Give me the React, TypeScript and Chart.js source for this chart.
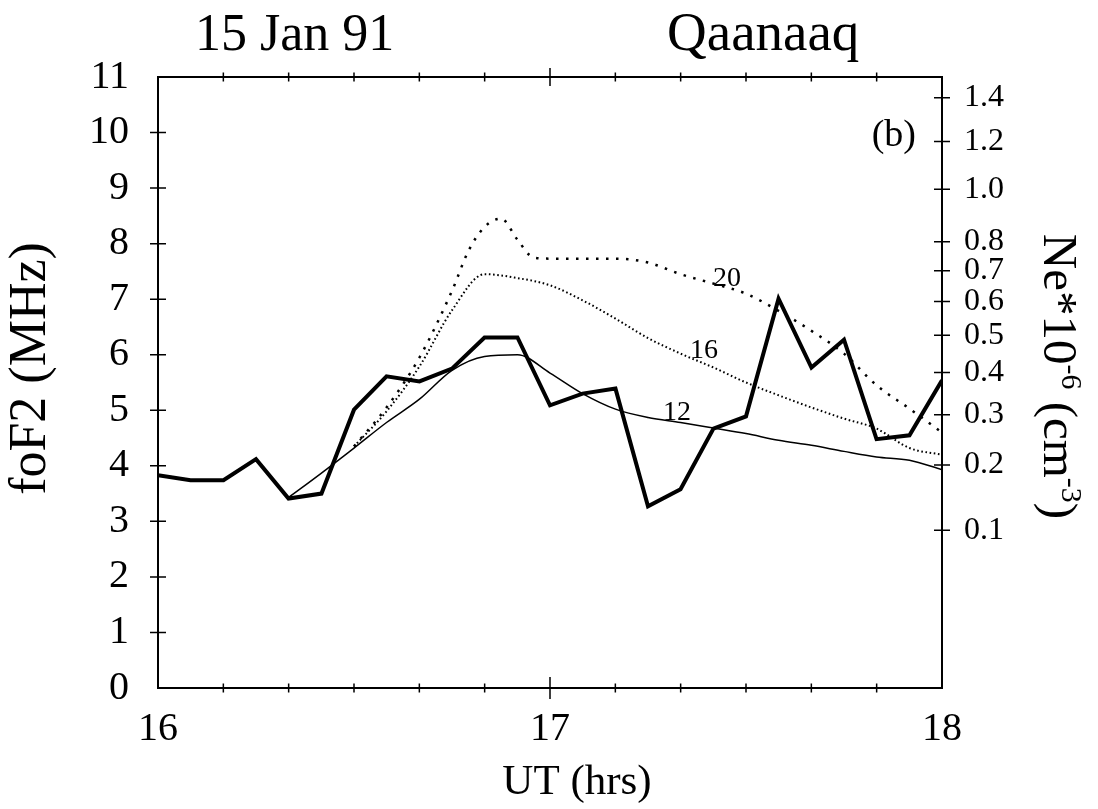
import React, { useEffect, useRef } from "react";
import { Chart, registerables } from "chart.js";

Chart.register(...registerables);

// ---------- data (UT hours, foF2 in MHz) ----------
const obsTimes = [16.0, 16.083, 16.167, 16.25, 16.333, 16.417, 16.5, 16.583, 16.667, 16.75, 16.833, 16.917, 17.0,
  17.083, 17.167, 17.25, 17.333, 17.417, 17.5, 17.583, 17.667, 17.75, 17.833, 17.917, 18.0];
const obsFoF2 = [3.83, 3.74, 3.74, 4.12, 3.41, 3.5, 5.01, 5.61, 5.52, 5.75, 6.31, 6.31, 5.09,
  5.3, 5.39, 3.27, 3.58, 4.67, 4.89, 7.01, 5.77, 6.27, 4.48, 4.55, 5.54];

const model12Times = [16.333, 16.417, 16.5, 16.583, 16.667, 16.75, 16.833, 16.917, 17.0, 17.083, 17.167,
  17.25, 17.333, 17.417, 17.5, 17.583, 17.667, 17.75, 17.833, 17.917, 18.0];
const model12 = [3.43, 3.87, 4.32, 4.78, 5.2, 5.72, 5.97, 6.0, 5.67, 5.3, 5.02,
  4.87, 4.78, 4.68, 4.58, 4.46, 4.37, 4.26, 4.16, 4.1, 3.93];

const model16Times = [16.5, 16.583, 16.667, 16.75, 16.833, 16.917, 17.0, 17.083, 17.167, 17.25, 17.333,
  17.417, 17.5, 17.583, 17.667, 17.75, 17.833, 17.917, 18.0];
const model16 = [4.35, 4.98, 5.79, 6.8, 7.45, 7.38, 7.25, 6.98, 6.65, 6.3, 6.02,
  5.77, 5.5, 5.27, 5.05, 4.85, 4.67, 4.32, 4.2];

const model20Times = [16.5, 16.583, 16.667, 16.75, 16.792, 16.833, 16.875, 16.917, 16.958, 17.0, 17.167,
  17.25, 17.333, 17.417, 17.5, 17.583, 17.667, 17.75, 17.833, 17.917, 18.0];
const model20 = [4.35, 5.05, 5.95, 7.15, 7.87, 8.3, 8.45, 8.07, 7.75, 7.73, 7.73,
  7.66, 7.45, 7.28, 7.1, 6.79, 6.43, 6.02, 5.45, 5.03, 4.6];

// right axis: electron density (x 1e6 cm^-3), Ne = 0.0124 * foF2^2
const neTickValues = [1.4, 1.2, 1.0, 0.8, 0.7, 0.6, 0.5, 0.4, 0.3, 0.2, 0.1];
const neTickLabels = ["1.4", "1.2", "1.0", "0.8", "0.7", "0.6", "0.5", "0.4", "0.3", "0.2", "0.1"];
const NE_COEF = 0.0124;

const xMajorTicks = [16, 17, 18];
const xMinorTicks = [16.1667, 16.3333, 16.5, 16.6667, 16.8333, 17.1667, 17.3333, 17.5, 17.6667, 17.8333];

const curveLabels = [
  { text: "20", x: 17.416, y: 7.24 },
  { text: "16", x: 17.357, y: 5.95 },
  { text: "12", x: 17.288, y: 4.82 },
];

const SERIF = "'Liberation Serif', 'Times New Roman', serif";

const toPts = (xs: number[], ys: number[]) => xs.map((x, i) => ({ x, y: ys[i] }));

const decorPlugin = {
  id: "decor",
  afterDraw(chart: any) {
    const ctx = chart.ctx as CanvasRenderingContext2D;
    const a = chart.chartArea;
    const xs = chart.scales.x;
    const ys = chart.scales.y;
    const y2 = chart.scales.y2;
    ctx.save();
    ctx.strokeStyle = "#000";
    ctx.fillStyle = "#000";
    ctx.lineWidth = 2;
    ctx.strokeRect(a.left, a.top, a.right - a.left, a.bottom - a.top);

    ctx.lineWidth = 1.5;
    ctx.beginPath();
    // left ticks
    for (let v = 1; v <= 10; v++) {
      const p = ys.getPixelForValue(v);
      ctx.moveTo(a.left - 8, p);
      ctx.lineTo(a.left + 8, p);
    }
    // right ticks (Ne)
    neTickValues.forEach((ne) => {
      const p = y2.getPixelForValue(Math.sqrt(ne / NE_COEF));
      ctx.moveTo(a.right - 8, p);
      ctx.lineTo(a.right + 8, p);
    });
    // x minor ticks (top and bottom)
    xMinorTicks.forEach((t) => {
      const p = xs.getPixelForValue(t);
      ctx.moveTo(p, a.bottom - 4.5);
      ctx.lineTo(p, a.bottom + 4.5);
      ctx.moveTo(p, a.top - 4.5);
      ctx.lineTo(p, a.top + 4.5);
    });
    xMajorTicks.slice(1, -1).forEach((t) => {
      const p = xs.getPixelForValue(t);
      ctx.moveTo(p, a.bottom - 11);
      ctx.lineTo(p, a.bottom + 11);
      ctx.moveTo(p, a.top - 9);
      ctx.lineTo(p, a.top + 9);
    });
    ctx.stroke();

    // header texts
    ctx.textBaseline = "alphabetic";
    ctx.textAlign = "left";
    ctx.font = `52px ${SERIF}`;
    ctx.fillText("15 Jan 91", 195, 50);
    ctx.font = `55px ${SERIF}`;
    ctx.fillText("Qaanaaq", 667, 50);

    ctx.font = `38px ${SERIF}`;
    ctx.textAlign = "right";
    ctx.fillText("(b)", a.right - 26, 146);

    // curve labels
    ctx.font = `28px ${SERIF}`;
    ctx.textAlign = "left";
    curveLabels.forEach((l) => {
      ctx.fillText(l.text, xs.getPixelForValue(l.x), ys.getPixelForValue(l.y));
    });

    // x axis title
    ctx.font = `43px ${SERIF}`;
    ctx.textAlign = "center";
    ctx.textBaseline = "middle";
    ctx.fillText("UT (hrs)", (a.left + a.right) / 2 + 27, 783);

    // left axis title
    ctx.save();
    ctx.translate(31, (a.top + a.bottom) / 2 - 14);
    ctx.rotate(-Math.PI / 2);
    ctx.font = `52px ${SERIF}`;
    ctx.fillText("foF2 (MHz)", 0, 0);
    ctx.restore();

    // right axis title with superscripts
    ctx.save();
    ctx.translate(1060, (a.top + a.bottom) / 2 - 6);
    ctx.rotate(Math.PI / 2);
    const big = `49px ${SERIF}`;
    const small = `30px ${SERIF}`;
    const parts = [
      { t: "Ne*10", f: big, dy: 0 },
      { t: "-6", f: small, dy: -18 },
      { t: " (cm", f: big, dy: 0 },
      { t: "-3", f: small, dy: -18 },
      { t: ")", f: big, dy: 0 },
    ];
    let total = 0;
    parts.forEach((p) => {
      ctx.font = p.f;
      total += ctx.measureText(p.t).width;
    });
    let cx = -total / 2;
    ctx.textAlign = "left";
    ctx.textBaseline = "alphabetic";
    parts.forEach((p) => {
      ctx.font = p.f;
      ctx.fillText(p.t, cx, 16 + p.dy);
      cx += ctx.measureText(p.t).width;
    });
    ctx.restore();

    ctx.restore();
  },
};

export default function App() {
  const ref = useRef<HTMLCanvasElement | null>(null);

  useEffect(() => {
    document.body.style.margin = "0";
    const canvas = ref.current;
    if (!canvas) return;
    const chart = new Chart(canvas, {
      type: "line",
      data: {
        datasets: [
          {
            label: "foF2 observed",
            data: toPts(obsTimes, obsFoF2),
            borderColor: "#000",
            borderWidth: 4,
            pointRadius: 0,
            tension: 0,
            borderJoinStyle: "miter",
          },
          {
            label: "12",
            data: toPts(model12Times, model12),
            borderColor: "#000",
            borderWidth: 1.5,
            pointRadius: 0,
            cubicInterpolationMode: "monotone",
          },
          {
            label: "16",
            data: toPts(model16Times, model16),
            borderColor: "#000",
            borderWidth: 2,
            borderDash: [1.6, 2.6],
            pointRadius: 0,
            cubicInterpolationMode: "monotone",
          },
          {
            label: "20",
            data: toPts(model20Times, model20),
            borderColor: "#000",
            borderWidth: 2.5,
            borderDash: [2.5, 7.5],
            pointRadius: 0,
            cubicInterpolationMode: "monotone",
          },
        ],
      },
      options: {
        responsive: false,
        animation: false,
        events: [],
        layout: { padding: { top: 77, left: 0, right: 0, bottom: 0 } },
        plugins: { legend: { display: false }, tooltip: { enabled: false }, title: { display: false } },
        scales: {
          x: {
            type: "linear",
            position: "bottom",
            min: 16,
            max: 18,
            afterBuildTicks: (s: any) => {
              s.ticks = xMajorTicks.map((v) => ({ value: v }));
            },
            afterFit: (s: any) => {
              s.height = 121;
            },
            grid: { display: false, drawTicks: false },
            border: { display: false },
            ticks: {
              autoSkip: false,
              maxRotation: 0,
              padding: 17,
              color: "#000",
              font: { family: SERIF, size: 40 },
              callback: (v: any) => String(v),
            },
          },
          y: {
            type: "linear",
            position: "left",
            min: 0,
            max: 11,
            afterFit: (s: any) => {
              s.width = 158;
            },
            grid: { display: false, drawTicks: false },
            border: { display: false },
            ticks: {
              stepSize: 1,
              autoSkip: false,
              padding: 29,
              color: "#000",
              font: { family: SERIF, size: 40 },
            },
          },
          y2: {
            type: "linear",
            position: "right",
            min: 0,
            max: 11,
            afterBuildTicks: (s: any) => {
              s.ticks = neTickValues.map((ne) => ({ value: Math.sqrt(ne / NE_COEF) }));
            },
            afterFit: (s: any) => {
              s.width = 156;
            },
            grid: { display: false, drawTicks: false },
            border: { display: false },
            ticks: {
              autoSkip: false,
              padding: 22,
              color: "#000",
              font: { family: SERIF, size: 32 },
              callback: (_v: any, i: number) => neTickLabels[i],
            },
          },
        },
      },
      plugins: [decorPlugin],
    } as any);
    return () => chart.destroy();
  }, []);

  return (
    <div style={{ width: 1098, height: 809, background: "#fff" }}>
      <canvas ref={ref} width={1098} height={809} style={{ display: "block" }} />
    </div>
  );
}
